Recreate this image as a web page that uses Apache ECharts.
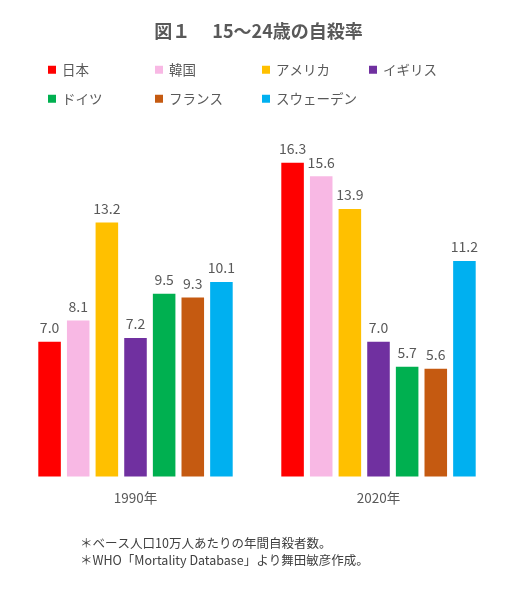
<!DOCTYPE html>
<html><head><meta charset="utf-8">
<script src="https://cdn.jsdelivr.net/npm/echarts@6/dist/echarts.min.js"></script>
<style>html,body{margin:0;padding:0;background:#fff}#c{width:517px;height:600px}</style>
</head><body><div id="c"></div>
<script>
const categories = ['1990年', '2020年'];
const countries = ['日本', '韓国', 'アメリカ', 'イギリス', 'ドイツ', 'フランス', 'スウェーデン'];
const japan = [7.0, 16.3];
const korea = [8.1, 15.6];
const usa = [13.2, 13.9];
const uk = [7.2, 7.0];
const germany = [9.5, 5.7];
const france = [9.3, 5.6];
const sweden = [10.1, 11.2];
const values = [japan, korea, usa, uk, germany, france, sweden];
const colors = ['#FF0000', '#F8B8E4', '#FFC000', '#7030A0', '#00B050', '#C55A11', '#00B0F0'];

const FONT = '"Noto Sans CJK JP", "Open Sans", sans-serif';
const legendPos = [[48,63],[155,63],[262,63],[369,63],[48,92],[155,92],[262,92]];
const legends = countries.map((n, i) => ({
  data: [n], left: legendPos[i][0], top: legendPos[i][1],
  icon: 'rect', itemWidth: 8, itemHeight: 8, itemGap: 0, padding: 0,
  selectedMode: false,
  textStyle: { color: '#595959', fontSize: 13.5, fontFamily: FONT, padding: [0,0,0,1] }
}));

const chart = echarts.init(document.getElementById('c'));
chart.setOption({
  animation: false,
  color: colors,
  title: {
    text: '図１　 15〜24歳の自殺率', left: 'center', top: 17,
    textStyle: { color: '#595959', fontSize: 18, fontWeight: 'bold', fontFamily: FONT }
  },
  legend: legends,
  grid: { left: 14, right: 17, top: 130, bottom: 123.5 },
  xAxis: {
    type: 'category', data: categories,
    axisLine: { show: false }, axisTick: { show: false },
    axisLabel: { color: '#595959', fontSize: 13.5, margin: 15, fontFamily: FONT }
  },
  yAxis: { type: 'value', min: 0, max: 18, show: false, splitLine: { show: false } },
  series: countries.map((n, i) => ({
    name: n, type: 'bar', data: values[i],
    barGap: '27%', barCategoryGap: '20%',
    itemStyle: { color: colors[i] },
    label: {
      show: true, position: 'top', distance: 7,
      formatter: p => p.value.toFixed(1),
      color: '#595959', fontSize: 14, fontFamily: FONT
    }
  })),
  graphic: [
    { type: 'text', left: 80, top: 537, style: { text: '＊ベース人口10万人あたりの年間自殺者数。', fill: '#404040', fontSize: 12.5, fontFamily: FONT } },
    { type: 'text', left: 80, top: 554, style: { text: '＊WHO「Mortality Database」より舞田敏彦作成。', fill: '#404040', fontSize: 12.5, fontFamily: FONT } }
  ]
});
</script></body></html>
